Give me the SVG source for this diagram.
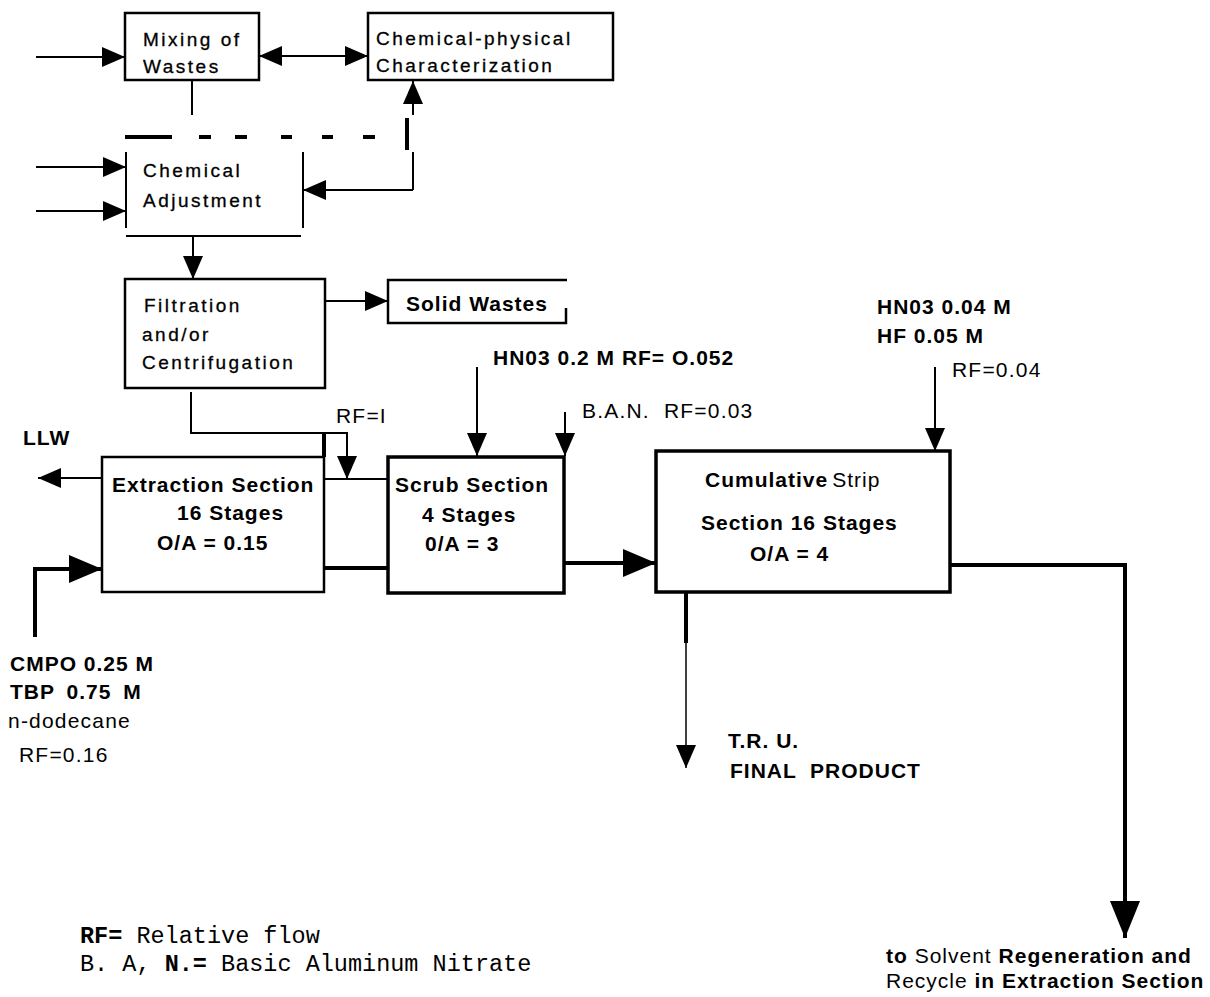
<svg xmlns="http://www.w3.org/2000/svg" width="1210" height="997" viewBox="0 0 1210 997">
<style>
.box{fill:none;stroke:#000;stroke-width:2.5}
.tb{stroke-width:3.5}
.ln{fill:none;stroke:#000;stroke-width:2}
.th{stroke-width:4}
.thin{stroke-width:1.5}
.t{font-family:"Liberation Sans",Arial,sans-serif;font-size:19px;letter-spacing:2.5px;fill:#000;stroke:#000;stroke-width:0.3}
.b{font-family:"Liberation Sans",Arial,sans-serif;font-size:21px;font-weight:bold;letter-spacing:1px;fill:#000}
.r{font-family:"Liberation Sans",Arial,sans-serif;font-size:21px;letter-spacing:1.2px;fill:#000}
.m{font-family:"Liberation Mono","Courier New",monospace;font-size:23.5px;fill:#000}
.nb{font-weight:normal}
</style>
<defs>
<marker id="a" markerUnits="userSpaceOnUse" markerWidth="24" markerHeight="20" refX="23" refY="10" orient="auto" viewBox="0 0 24 20"><path d="M0,0 L23,10 L0,20 z" fill="#000"/></marker>
<marker id="as" markerUnits="userSpaceOnUse" markerWidth="24" markerHeight="20" refX="23" refY="10" orient="auto-start-reverse" viewBox="0 0 24 20"><path d="M0,0 L23,10 L0,20 z" fill="#000"/></marker>
<marker id="al" markerUnits="userSpaceOnUse" markerWidth="34" markerHeight="28" refX="33" refY="14" orient="auto" viewBox="0 0 34 28"><path d="M0,0 L33,14 L0,28 z" fill="#000"/></marker>
<marker id="ax" markerUnits="userSpaceOnUse" markerWidth="38" markerHeight="30" refX="37" refY="15" orient="auto" viewBox="0 0 38 30"><path d="M0,0 L37,15 L0,30 z" fill="#000"/></marker>
</defs>

<g id="connectors">
<line class="ln" x1="36" y1="57" x2="125" y2="57" marker-end="url(#a)"/>
<line class="ln" x1="259" y1="56" x2="368" y2="56" marker-start="url(#as)" marker-end="url(#as)"/>
<line class="ln" x1="192" y1="80" x2="192" y2="115"/>
<line class="ln th" x1="125" y1="137" x2="172" y2="137"/>
<path class="ln th" d="M199 137H211M235 137H247M281 137H292M322 137H333M363 137H375"/>
<path class="ln" d="M413 190V152"/>
<path class="ln th" d="M407 150V118"/>
<line class="ln" x1="413" y1="115" x2="413" y2="81" marker-end="url(#a)"/>
<line class="ln" x1="413" y1="190" x2="303" y2="190" marker-end="url(#a)"/>
<line class="ln" x1="36" y1="167" x2="126" y2="167" marker-end="url(#a)"/>
<line class="ln" x1="36" y1="211" x2="126" y2="211" marker-end="url(#a)"/>
<line class="ln" x1="193" y1="236" x2="193" y2="279" marker-end="url(#a)"/>
<line class="ln" x1="325" y1="301" x2="388" y2="301" marker-end="url(#a)"/>
<path class="ln" d="M191 392V433H347V479" marker-end="url(#a)"/>
<path class="ln th" d="M324 433V457"/>
<line class="ln" x1="325" y1="479" x2="388" y2="479"/>
<line class="ln" x1="102" y1="478" x2="38" y2="478" marker-end="url(#a)"/>
<path class="ln th" d="M35 637V569H102" marker-end="url(#al)"/>
<line class="ln th" x1="323" y1="568" x2="388" y2="568"/>
<line class="ln" x1="477" y1="367" x2="477" y2="456" marker-end="url(#a)"/>
<line class="ln" x1="565" y1="412" x2="565" y2="456" marker-end="url(#a)"/>
<line class="ln th" x1="564" y1="563" x2="656" y2="563" marker-end="url(#al)"/>
<line class="ln" x1="935" y1="367" x2="935" y2="451" marker-end="url(#a)"/>
<line class="ln th" x1="686" y1="592" x2="686" y2="643"/>
<line class="ln thin" x1="686" y1="643" x2="686" y2="768" marker-end="url(#a)"/>
<path class="ln th" d="M950 565H1125V938" marker-end="url(#ax)"/>
</g>

<g id="mixing">
<rect class="box" x="125" y="13" width="134" height="67"/>
<text class="t" x="143" y="46">Mixing of</text>
<text class="t" x="143" y="73">Wastes</text>
</g>

<g id="characterization">
<rect class="box" x="368" y="13" width="245" height="67"/>
<text class="t" x="376" y="45">Chemical-physical</text>
<text class="t" x="376" y="72">Characterization</text>
</g>

<g id="adjustment">
<path class="ln" d="M126 152V228M303 152V228"/>
<path class="ln" stroke-width="3" d="M126 236H301"/>
<text class="t" x="143" y="177">Chemical</text>
<text class="t" x="143" y="207">Adjustment</text>
</g>

<g id="filtration">
<rect class="box" stroke-width="3" x="125" y="279" width="200" height="109"/>
<text class="t" x="144" y="312" letter-spacing="1.6" stroke-width="0">Filtration</text>
<text class="t" x="142" y="341">and/or</text>
<text class="t" x="142" y="369">Centrifugation</text>
</g>

<g id="solid">
<path class="box" d="M566 308V323H388V280H567"/>
<text class="b" x="406" y="311" letter-spacing="0.5">Solid Wastes</text>
</g>

<g id="extraction">
<rect class="box" x="102" y="457" width="222" height="135"/>
<text class="b" x="112" y="492">Extraction Section</text>
<text class="b" x="177" y="520">16 Stages</text>
<text class="b" x="157" y="550" letter-spacing="1.5">O/A = 0.15</text>
</g>

<g id="scrub">
<rect class="box tb" x="388" y="457" width="176" height="136"/>
<text class="b" x="395" y="492">Scrub Section</text>
<text class="b" x="422" y="522">4 Stages</text>
<text class="b" x="425" y="551">0/A = 3</text>
</g>

<g id="strip">
<rect class="box tb" x="656" y="451" width="294" height="141"/>
<text class="b" x="705" y="487">Cumulative<tspan class="nb" dx="4">Strip</tspan></text>
<text class="b" x="701" y="530" letter-spacing="1.3">Section 16 Stages</text>
<text class="b" x="750" y="561">O/A = 4</text>
</g>

<g id="labels">
<text class="b" x="23" y="445" letter-spacing="0">LLW</text>
<text class="r" x="336" y="423">RF=I</text>
<text class="b" x="493" y="365" letter-spacing="1.4">HN03 0.2 M RF= O.052</text>
<text class="r" x="582" y="418" xml:space="preserve">B.A.N.  RF=0.03</text>
<text class="b" x="877" y="314" letter-spacing="1.5">HN03 0.04 M</text>
<text class="b" x="877" y="343" letter-spacing="1.2">HF 0.05 M</text>
<text class="r" x="952" y="377">RF=0.04</text>
<text class="b" x="10" y="671">CMPO 0.25 M</text>
<text class="b" x="10" y="699" word-spacing="5">TBP 0.75 M</text>
<text class="r" x="8" y="728" letter-spacing="1">n-dodecane</text>
<text class="r" x="19" y="762">RF=0.16</text>
<text class="b" x="728" y="748" letter-spacing="2.5" xml:space="preserve">T.R. U.</text>
<text class="b" x="730" y="778" font-size="20" letter-spacing="2.5" xml:space="preserve">FINAL  PRODUCT</text>
<text class="b" x="886" y="963" letter-spacing="0.8">to <tspan class="nb">Solvent</tspan> Regeneration and</text>
<text class="b" x="886" y="988" letter-spacing="0.8"><tspan class="nb">Recycle</tspan> in Extraction Section</text>
</g>

<g id="legend">
<text class="m" x="80" y="943"><tspan font-weight="bold">RF=</tspan> Relative flow</text>
<text class="m" x="80" y="971">B. A, <tspan font-weight="bold">N.=</tspan> Basic Aluminum Nitrate</text>
</g>
</svg>
